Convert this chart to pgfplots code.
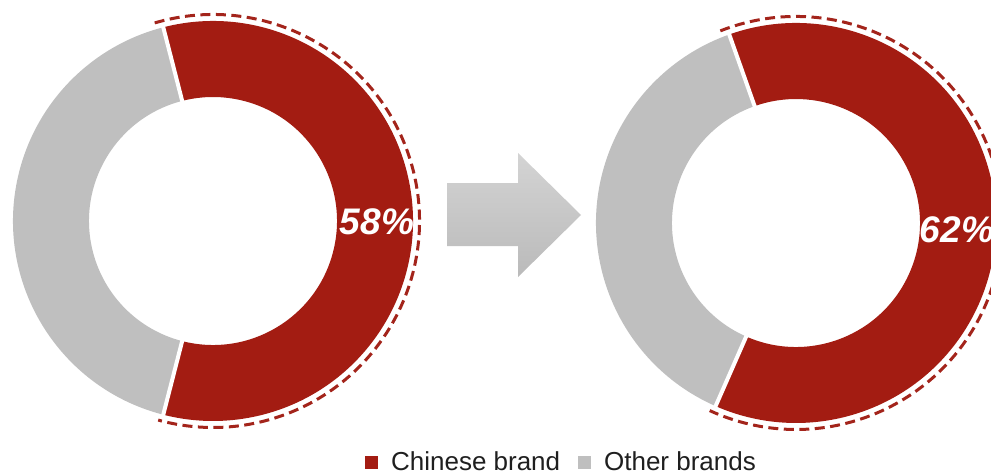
\documentclass[border=0pt]{standalone}
\usepackage{fontspec}
\setmainfont{Liberation Sans}
\usepackage{pgfplots}
\pgfplotsset{compat=1.18}

\definecolor{cnred}{HTML}{A31C12}
\definecolor{othgray}{HTML}{BFBFBF}
\definecolor{dashred}{HTML}{A3241B}

% #1,#2 centre (px), #3 share of Chinese brands (%), #4 start angle of red part
\newcommand{\donut}[4]{%
  \fill[cnred] (axis cs:#1,#2) ++({#4}:200pt)
    arc[start angle={#4}, end angle={#4-3.6*#3}, radius=200pt]
    -- ++({#4-3.6*#3+180}:76pt)
    arc[start angle={#4-3.6*#3}, end angle={#4}, radius=124pt] -- cycle;
  \fill[othgray] (axis cs:#1,#2) ++({#4-3.6*#3}:200pt)
    arc[start angle={#4-3.6*#3}, end angle={#4-360}, radius=200pt]
    -- ++({#4+180}:76pt)
    arc[start angle={#4-360}, end angle={#4-3.6*#3}, radius=124pt] -- cycle;
  \draw[white, line width=4pt] (axis cs:#1,#2) ++({#4}:120pt) -- ++({#4}:84pt);
  \draw[white, line width=4pt] (axis cs:#1,#2) ++({#4-3.6*#3}:120pt) -- ++({#4-3.6*#3}:84pt);
  \draw[dashred, line width=3pt, dash pattern=on 10pt off 5.5pt]
    (axis cs:#1,#2) ++({#4+2}:206.5pt)
    arc[start angle={#4+2}, end angle={#4-3.6*#3-1}, radius=206.5pt];
}

\begin{document}
\begin{tikzpicture}
\useasboundingbox (0,0) rectangle (991pt,475pt);
\begin{axis}[
  at={(0,0)}, anchor=south west,
  scale only axis, width=991pt, height=475pt,
  xmin=0, xmax=991, ymin=0, ymax=475,
  hide axis, clip=false,
  legend columns=2,
  legend image code/.code={\fill[#1] (0pt,-6pt) rectangle (12pt,6pt);},
  legend style={at={(axis cs:365,13)}, anchor=west, draw=none, fill=none,
    inner sep=0pt, column sep=13.5pt,
    nodes={inner sep=0pt, text=black!88, font=\fontsize{26}{30}\selectfont},
    /tikz/every even column/.append style={column sep=18pt}},
]
  % 2020 vs 2021 share, left and right ring
  \donut{213}{254}{58}{104.4}
  \donut{796}{252}{62}{109.5}

  \node[text=white, font=\fontsize{37}{42}\selectfont\bfseries\itshape] at (axis cs:377,253) {58\%};
  \node[text=white, font=\fontsize{37}{42}\selectfont\bfseries\itshape] at (axis cs:957,245) {62\%};

  % arrow between the rings
  \shade[top color=black!17, bottom color=black!27]
    (axis cs:447,292) -- (axis cs:518,292) -- (axis cs:518,322) -- (axis cs:581,260)
    -- (axis cs:518,198) -- (axis cs:518,229) -- (axis cs:447,229) -- cycle;

  \addlegendimage{cnred}
  \addlegendentry{Chinese brand}
  \addlegendimage{othgray}
  \addlegendentry{Other brands}
\end{axis}
\end{tikzpicture}
\end{document}
